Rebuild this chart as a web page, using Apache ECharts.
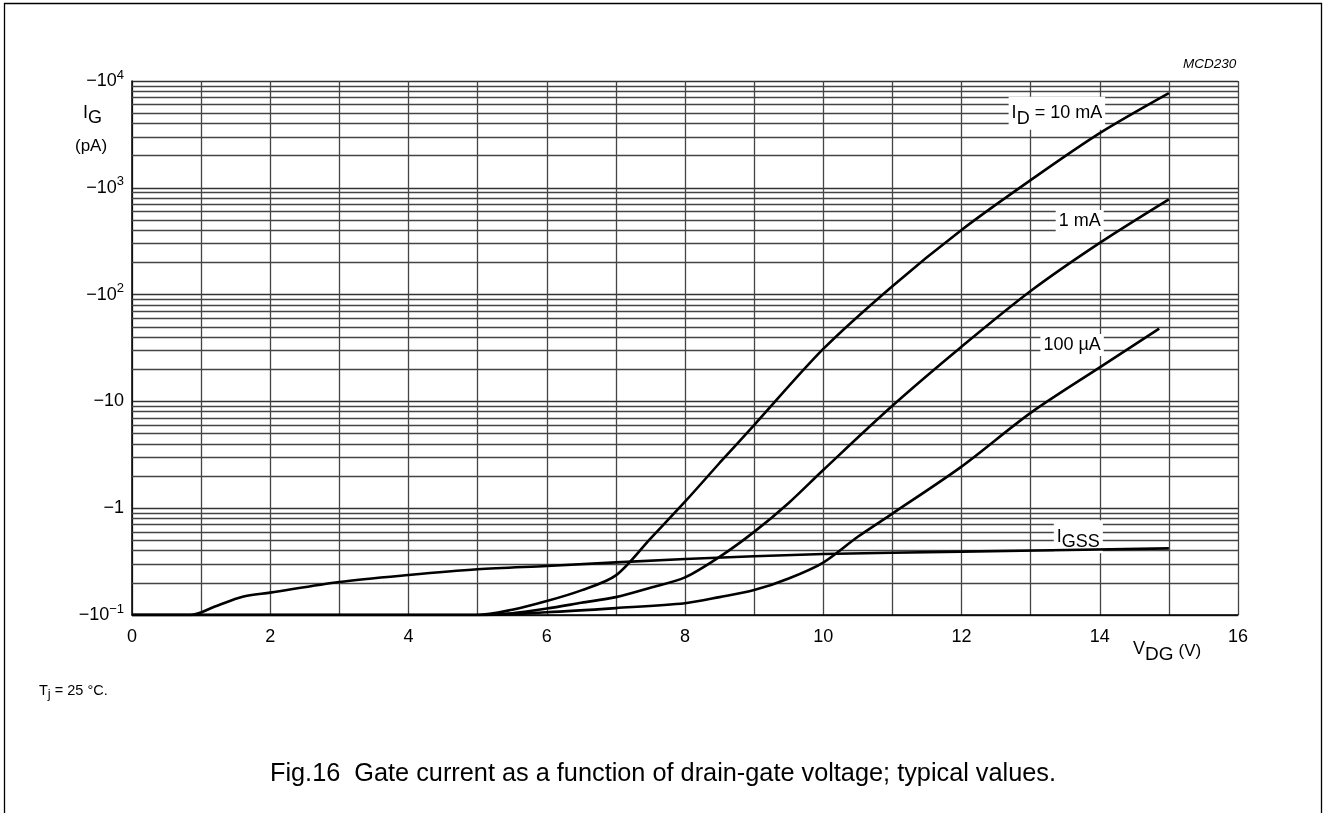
<!DOCTYPE html>
<html><head><meta charset="utf-8">
<script src="https://cdn.jsdelivr.net/npm/echarts@6/dist/echarts.min.js"></script>
<style>html,body{margin:0;padding:0;background:#fff}#c{width:1326px;height:813px}</style>
</head><body><div id="c"></div>
<script>
// ---- data (magnitudes of negative gate current, pA) ----
var xTicks = [0, 2, 4, 6, 8, 10, 12, 14, 16];
var yDecades = [0.1, 1, 10, 100, 1000, 10000];
var yMinorMult = [2, 3, 4, 5, 6, 7, 8, 9];

var v10mA = [0, 5, 5.5, 6, 6.5, 7, 7.5, 8, 8.5, 9, 10, 11, 12, 13, 14, 15];
var ig10mA = [0.1, 0.1, 0.112, 0.135, 0.17, 0.235, 0.52, 1.15, 2.65, 6.0, 31, 120, 403, 1180, 3250, 7700];

var v1mA = [0, 5, 5.5, 6, 6.5, 7, 7.5, 8, 8.5, 9, 9.5, 10, 11, 12, 13, 14, 15];
var ig1mA = [0.1, 0.1, 0.104, 0.115, 0.13, 0.147, 0.18, 0.225, 0.35, 0.6, 1.12, 2.28, 9.1, 32.5, 108, 305, 780];

var v100uA = [0, 5, 6, 7, 8, 8.5, 9, 9.5, 10, 10.5, 11, 12, 13, 14, 14.86];
var ig100uA = [0.1, 0.1, 0.106, 0.116, 0.129, 0.147, 0.171, 0.22, 0.31, 0.54, 0.89, 2.45, 7.8, 20.8, 48];

var vGSS = [0, 0.85, 1.2, 1.6, 2, 3, 4, 5, 6, 8, 10, 12, 15];
var igGSS = [0.1, 0.1, 0.12, 0.148, 0.162, 0.204, 0.237, 0.268, 0.288, 0.334, 0.372, 0.392, 0.421];

var curveLabels = [
  {name: '10mA', text: 'I{sub|D} = 10 mA', at: [13.38, 5000]},
  {name: '1mA', text: '1 mA', at: [13.71, 489]},
  {name: '100uA', text: '100 µA', at: [13.6, 33.7]},
  {name: 'GSS', text: 'I{sub|GSS}', at: [13.69, 0.54]}
];

function zip(a, b) { return a.map(function (x, i) { return [x, b[i]]; }); }

var FONT = 'Liberation Sans, Arial, sans-serif';
var minorLines = [];
yDecades.slice(0, -1).forEach(function (d) {
  yMinorMult.forEach(function (m) { minorLines.push({yAxis: d * m}); });
});

function curve(name, xs, ys) {
  var lab = curveLabels.filter(function (l) { return l.name === name; })[0];
  return {
    type: 'line', name: name, data: zip(xs, ys), smooth: 0.3, showSymbol: false,
    lineStyle: {color: '#000', width: 2.6}, z: 5, silent: true,
    markPoint: {
      symbol: 'rect', symbolSize: 1, itemStyle: {color: 'transparent'}, silent: true,
      data: [{coord: lab.at, label: {
        show: true, position: 'inside', formatter: lab.text,
        fontSize: 18, fontFamily: FONT, color: '#000',
        backgroundColor: '#fff', padding: [2, 3, 2, 3],
        rich: {sub: {fontSize: 18, fontFamily: FONT, color: '#000', padding: [11, 0, 0, 0]}}
      }}]
    }
  };
}

var chart = echarts.init(document.getElementById('c'), null, {renderer: 'canvas'});
chart.setOption({
  backgroundColor: '#fff',
  animation: false,
  grid: {left: 132, right: 88, top: 81, bottom: 198},
  xAxis: {
    type: 'value', min: 0, max: 16, interval: 2,
    axisLine: {lineStyle: {color: '#000', width: 1.5}},
    axisTick: {show: false},
    axisLabel: {fontSize: 18, fontFamily: FONT, color: '#000', margin: 13},
    splitLine: {show: true, lineStyle: {color: '#444', width: 1.3}},
    minorTick: {show: false, splitNumber: 2},
    minorSplitLine: {show: true, lineStyle: {color: '#444', width: 1.3}}
  },
  yAxis: {
    type: 'log', logBase: 10, min: 0.1, max: 10000,
    axisLine: {show: true, lineStyle: {color: '#000', width: 1.5}},
    axisTick: {show: false},
    axisLabel: {
      fontSize: 18, fontFamily: FONT, color: '#000', margin: 8,
      formatter: function (v) {
        var e = Math.round(Math.log10(v));
        if (e === 0) return '\u22121';
        if (e === 1) return '\u221210';
        return '\u221210{sup|' + (e < 0 ? '\u2212' + (-e) : e) + '}';
      },
      rich: {sup: {fontSize: 13, fontFamily: FONT, color: '#000', padding: [0, 0, 12, 0]}}
    },
    splitLine: {show: true, lineStyle: {color: '#333', width: 1.3}}
  },
  series: [
    {
      type: 'line', data: [], silent: true,
      markLine: {
        silent: true, symbol: ['none', 'none'], label: {show: false},
        lineStyle: {type: 'solid', color: '#444', width: 1.3},
        data: minorLines
      }
    },
    curve('10mA', v10mA, ig10mA),
    curve('1mA', v1mA, ig1mA),
    curve('100uA', v100uA, ig100uA),
    curve('GSS', vGSS, igGSS)
  ],
  graphic: [
    {type: 'polyline', shape: {points: [[4.5, 813], [4.5, 3.5], [1321.5, 3.5], [1321.5, 813]]},
      style: {stroke: '#000', lineWidth: 1.3, fill: null}},
    {type: 'text', left: 1183, top: 57, style: {text: 'MCD230', font: 'italic 13.5px ' + FONT, fill: '#000'}},
    {type: 'text', left: 83, top: 104, style: {text: 'I{sub|G}', font: '18px ' + FONT, fill: '#000',
      rich: {sub: {font: '18px ' + FONT, fill: '#000', padding: [11, 0, 0, 0]}}}},
    {type: 'text', left: 75, top: 138, style: {text: '(pA)', font: '17px ' + FONT, fill: '#000'}},
    {type: 'text', left: 1133, top: 640, style: {text: 'V{sub|DG} {s|(V)}', font: '18px ' + FONT, fill: '#000',
      rich: {sub: {font: '19px ' + FONT, fill: '#000', padding: [12, 0, 0, 0]},
             s: {font: '17px ' + FONT, fill: '#000', padding: [4, 0, 0, 0]}}}},
    {type: 'text', left: 39, top: 683, style: {text: 'T{sub|j} = 25 °C.', font: '14.5px ' + FONT, fill: '#000',
      rich: {sub: {font: '13px ' + FONT, fill: '#000', padding: [7, 0, 0, 0]}}}},
    {type: 'text', left: 'center', top: 762, style: {
      text: 'Fig.16  Gate current as a function of drain-gate voltage; typical values.',
      font: '25.3px ' + FONT, fill: '#000'}}
  ]
});
</script></body></html>
